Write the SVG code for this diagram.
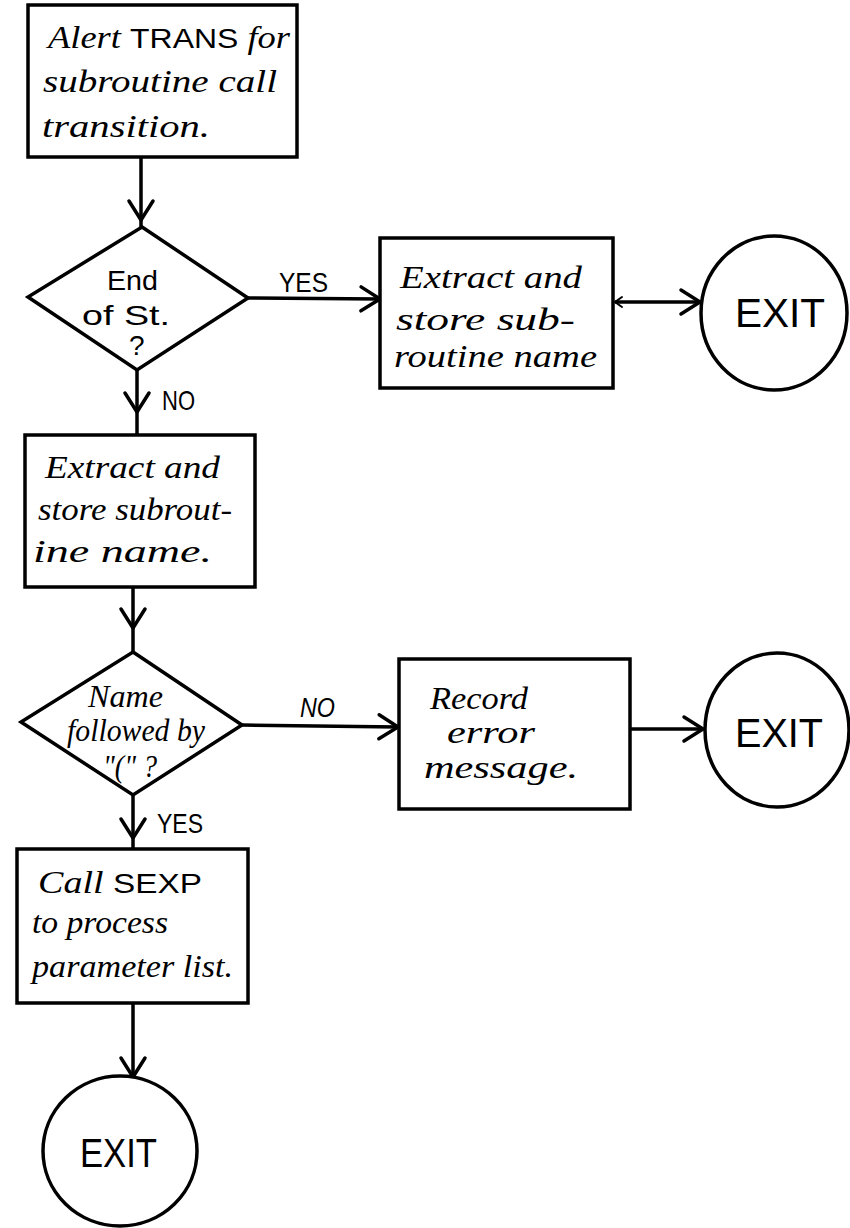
<svg xmlns="http://www.w3.org/2000/svg" width="850" height="1228" viewBox="0 0 850 1228">
  <style>
    .box { fill: #fff; stroke: #000; stroke-width: 3.5; stroke-linejoin: miter; }
    .conn { fill: none; stroke: #000; stroke-width: 3.5; }
    .script { font-family: "Liberation Serif", "DejaVu Serif", serif; font-style: italic; font-size: 32px; fill: #000; }
    .print { font-family: "Liberation Sans", "DejaVu Sans", sans-serif; font-size: 28px; fill: #000; }
    .exit { font-family: "Liberation Sans", "DejaVu Sans", sans-serif; font-size: 40px; fill: #000; }
    .caps { font-family: "Liberation Sans", "DejaVu Sans", sans-serif; font-style: normal; font-size: 28px; }
  </style>
  <defs>
    <!-- open chevron arrowhead -->
    <marker id="arrow" markerUnits="userSpaceOnUse" viewBox="-24 -16 28 32" markerWidth="28" markerHeight="32" refX="0" refY="0" orient="auto">
      <path d="M-19,-12 L0,0 L-19,12" fill="none" stroke="#000" stroke-width="3.5" stroke-linecap="round" stroke-linejoin="round"/>
    </marker>
    <!-- small tick at the start of the box-to-exit line -->
    <marker id="tick" markerUnits="userSpaceOnUse" viewBox="-10 -8 14 16" markerWidth="14" markerHeight="16" refX="0" refY="0" orient="auto-start-reverse">
      <path d="M-7,-5 L0,0 L-7,5" fill="none" stroke="#000" stroke-width="2" stroke-linecap="round"/>
    </marker>
  </defs>

  <!-- connectors -->
  <g id="connectors">
    <path class="conn" d="M141,157 L141,220 L141,227" marker-mid="url(#arrow)"/>
    <path class="conn" d="M248,298 L380,299" marker-end="url(#arrow)"/>
    <path class="conn" d="M615,302 L700,302" marker-start="url(#tick)" marker-end="url(#arrow)"/>
    <path class="conn" d="M137,370 L137,412 L137,435" marker-mid="url(#arrow)"/>
    <path class="conn" d="M133,587 L133,628 L133,652" marker-mid="url(#arrow)"/>
    <path class="conn" d="M242,725 L398,727" marker-end="url(#arrow)"/>
    <path class="conn" d="M630,729 L703,729" marker-end="url(#arrow)"/>
    <path class="conn" d="M133,795 L133,838 L133,849" marker-mid="url(#arrow)"/>
    <path class="conn" d="M133,1003 L133,1077" marker-end="url(#arrow)"/>
    <text class="print" x="279" y="292" font-size="26" textLength="49" lengthAdjust="spacingAndGlyphs">YES</text>
    <text class="print" x="162" y="410" font-size="24" textLength="33" lengthAdjust="spacingAndGlyphs">NO</text>
    <text class="print" x="300" y="717" font-size="25" font-style="italic" textLength="35" lengthAdjust="spacingAndGlyphs">NO</text>
    <text class="print" x="157" y="833" font-size="27" textLength="46" lengthAdjust="spacingAndGlyphs">YES</text>
  </g>

  <!-- start: alert TRANS -->
  <g id="alert-trans">
    <rect class="box" x="28" y="5" width="269" height="152"/>
    <text class="script" x="48" y="48" textLength="242" lengthAdjust="spacingAndGlyphs">Alert <tspan class="caps">TRANS</tspan> for</text>
    <text class="script" x="43" y="92" textLength="234" lengthAdjust="spacingAndGlyphs">subroutine call</text>
    <text class="script" x="42" y="137" textLength="168" lengthAdjust="spacingAndGlyphs">transition.</text>
  </g>

  <!-- decision: end of statement -->
  <g id="end-of-st">
    <polygon class="box" points="142,227 248,298 137,370 28,297"/>
    <text class="print" x="107" y="290" font-size="30" textLength="51" lengthAdjust="spacingAndGlyphs">End</text>
    <text class="print" x="82" y="325" font-size="30" textLength="88" lengthAdjust="spacingAndGlyphs">of St.</text>
    <text class="print" x="129" y="355" font-size="28">?</text>
  </g>

  <!-- extract name (end of statement) -->
  <g id="extract-name-a">
    <rect class="box" x="380" y="238" width="233" height="150"/>
    <text class="script" x="400" y="288" textLength="182" lengthAdjust="spacingAndGlyphs">Extract and</text>
    <text class="script" x="396" y="330" textLength="179" lengthAdjust="spacingAndGlyphs">store sub-</text>
    <text class="script" x="394" y="367" textLength="203" lengthAdjust="spacingAndGlyphs">routine name</text>
  </g>

  <g id="exit-1">
    <ellipse class="box" cx="774" cy="313" rx="73" ry="77"/>
    <text class="exit" x="735" y="327" textLength="90" lengthAdjust="spacingAndGlyphs">EXIT</text>
  </g>

  <!-- extract name (more to follow) -->
  <g id="extract-name-b">
    <rect class="box" x="25" y="435" width="230" height="152"/>
    <text class="script" x="45" y="478" textLength="175" lengthAdjust="spacingAndGlyphs">Extract and</text>
    <text class="script" x="38" y="520" textLength="194" lengthAdjust="spacingAndGlyphs">store subrout-</text>
    <text class="script" x="33" y="562" textLength="179" lengthAdjust="spacingAndGlyphs">ine  name.</text>
  </g>

  <!-- decision: parenthesis follows -->
  <g id="paren-check">
    <polygon class="box" points="133,652 242,725 133,795 21,722"/>
    <text class="script" x="88" y="707" font-size="24" textLength="75" lengthAdjust="spacingAndGlyphs">Name</text>
    <text class="script" x="67" y="741" font-size="24" textLength="138" lengthAdjust="spacingAndGlyphs">followed by</text>
    <text class="script" x="103" y="777" font-size="24" textLength="54" lengthAdjust="spacingAndGlyphs">"(" ?</text>
  </g>

  <g id="record-error">
    <rect class="box" x="399" y="659" width="231" height="150"/>
    <text class="script" x="430" y="709" font-size="25" textLength="98" lengthAdjust="spacingAndGlyphs">Record</text>
    <text class="script" x="447" y="743" font-size="25" textLength="88" lengthAdjust="spacingAndGlyphs">error</text>
    <text class="script" x="424" y="778" font-size="27" textLength="154" lengthAdjust="spacingAndGlyphs">message.</text>
  </g>

  <g id="exit-2">
    <ellipse class="box" cx="777" cy="730" rx="72" ry="77"/>
    <text class="exit" x="735" y="747" textLength="88" lengthAdjust="spacingAndGlyphs">EXIT</text>
  </g>

  <g id="call-sexp">
    <rect class="box" x="17" y="849" width="231" height="154"/>
    <text class="script" x="38" y="893" textLength="164" lengthAdjust="spacingAndGlyphs">Call <tspan class="caps">SEXP</tspan></text>
    <text class="script" x="32" y="933" textLength="136" lengthAdjust="spacingAndGlyphs">to process</text>
    <text class="script" x="32" y="977" textLength="201" lengthAdjust="spacingAndGlyphs">parameter list.</text>
  </g>

  <g id="exit-3">
    <ellipse class="box" cx="120" cy="1151" rx="77" ry="75"/>
    <text class="exit" x="80" y="1167" textLength="77" lengthAdjust="spacingAndGlyphs">EXIT</text>
  </g>
</svg>
